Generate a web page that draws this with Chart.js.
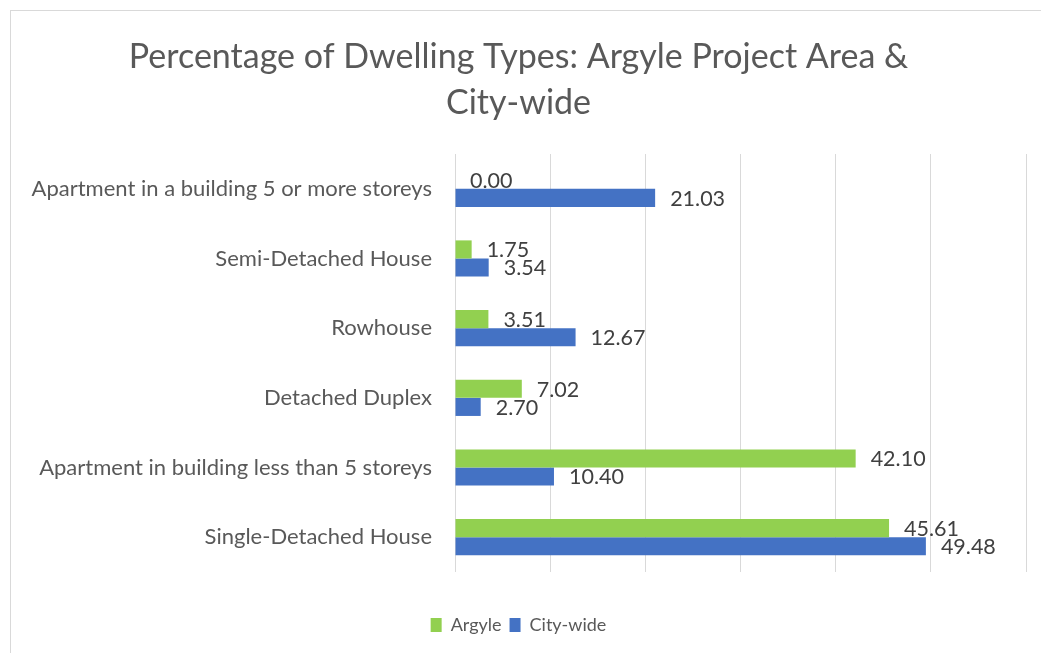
<!DOCTYPE html>
<html>
<head>
<meta charset="utf-8">
<script src="https://cdn.jsdelivr.net/npm/chart.js@4"></script>
<style>
  body { margin: 0; background: #fff; }
  #wrap {
    position: absolute; left: 10px; top: 10px;
    width: 1031px; height: 642px;
    border-left: 1px solid #d9d9d9; border-top: 1px solid #d9d9d9;
  }
</style>
</head>
<body>
<div id="wrap"><canvas id="chart"></canvas></div>
<script>
const categories = [
  'Apartment in a building 5 or more storeys',
  'Semi-Detached House',
  'Rowhouse',
  'Detached Duplex',
  'Apartment in building less than 5 storeys',
  'Single-Detached House'
];
const argyle = [0.00, 1.75, 3.51, 7.02, 42.10, 45.61];
const cityWide = [21.03, 3.54, 12.67, 2.70, 10.40, 49.48];
const titleLines = ['Percentage of Dwelling Types: Argyle Project Area &', 'City-wide'];

const FONT = 'Lato, "Open Sans", sans-serif';

// draws the value next to the end of every bar
const barValues = {
  id: 'barValues',
  afterDatasetsDraw(chart) {
    const ctx = chart.ctx;
    ctx.save();
    ctx.font = '21.5px ' + FONT;
    ctx.fillStyle = '#404040';
    ctx.textAlign = 'left';
    ctx.textBaseline = 'middle';
    chart.data.datasets.forEach((ds, i) => {
      chart.getDatasetMeta(i).data.forEach((bar, j) => {
        ctx.fillText(ds.data[j].toFixed(2), bar.x + 15, bar.y + 1);
      });
    });
    ctx.restore();
  }
};

new Chart(document.getElementById('chart'), {
  type: 'bar',
  data: {
    labels: categories,
    datasets: [
      { label: 'Argyle', data: argyle, backgroundColor: '#92d050' },
      { label: 'City-wide', data: cityWide, backgroundColor: '#4472c4' }
    ]
  },
  options: {
    indexAxis: 'y',
    responsive: true,
    maintainAspectRatio: false,
    animation: false,
    categoryPercentage: 0.52,
    barPercentage: 1.0,
    layout: { padding: { left: 0, right: 16, top: 0, bottom: 9 } },
    plugins: {
      title: {
        display: true,
        text: titleLines,
        color: '#595959',
        font: { family: FONT, size: 34, weight: 'normal', lineHeight: 1.353 },
        padding: { top: 23, bottom: 28 }
      },
      legend: {
        position: 'bottom',
        labels: {
          color: '#595959',
          font: { family: FONT, size: 18 },
          boxWidth: 11,
          boxHeight: 14,
          padding: 8
        }
      },
      tooltip: { enabled: false }
    },
    scales: {
      x: {
        min: 0, max: 60,
        ticks: { display: false, stepSize: 10 },
        grid: { color: '#d9d9d9', drawTicks: false },
        border: { display: false },
        afterFit(scale) { scale.height = 36; }
      },
      y: {
        ticks: { color: '#595959', font: { family: FONT, size: 22 }, padding: 23 },
        grid: { display: false, drawTicks: false },
        border: { display: false },
        afterFit(scale) { scale.width = 444; }
      }
    }
  },
  plugins: [barValues]
});
</script>
</body>
</html>
